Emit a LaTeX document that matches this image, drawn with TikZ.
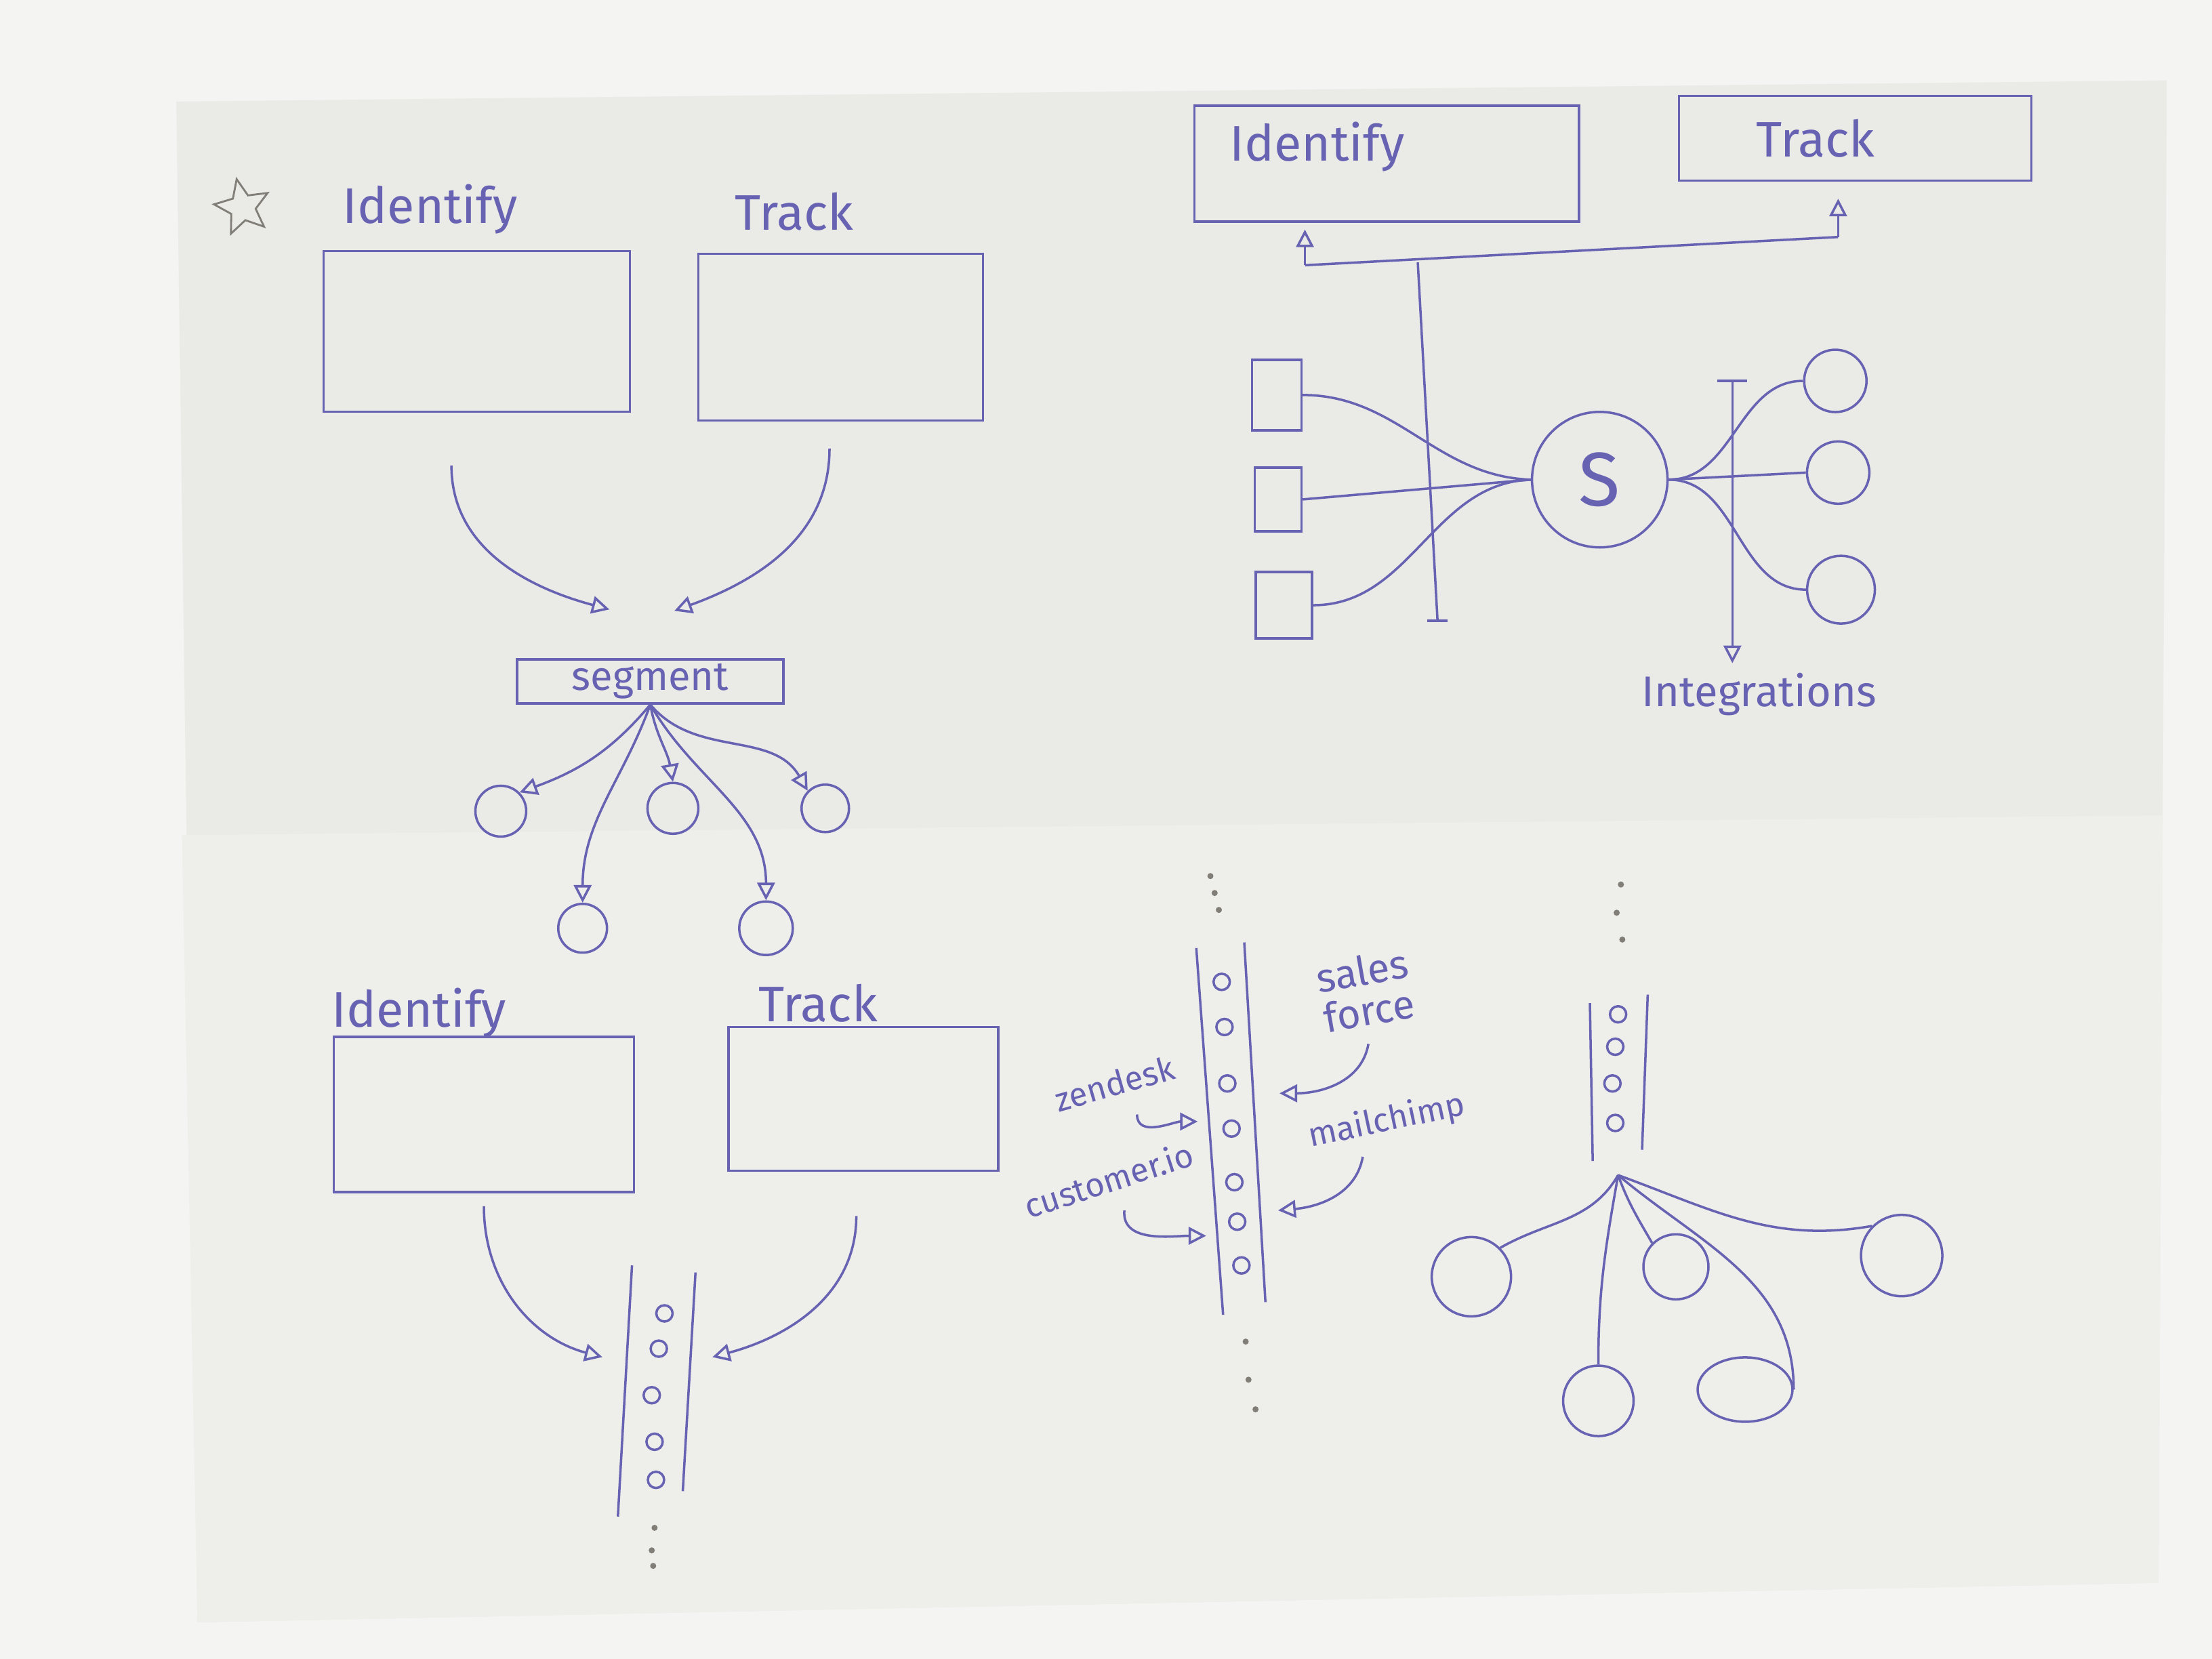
\documentclass[tikz,border=0pt]{standalone}
\usepackage{fontspec}
\setmainfont{Fira Sans}
\usetikzlibrary{arrows.meta}
\usetikzlibrary{shapes.geometric}
\usetikzlibrary{positioning}

\definecolor{ink}{RGB}{104,98,178}
\definecolor{pencil}{RGB}{128,126,118}
\definecolor{paper}{RGB}{234,234,231}
\definecolor{desk}{RGB}{244,244,242}

\tikzset{
  pen/.style={draw=ink, line width=1pt},
  box/.style={pen, rectangle, inner sep=0pt},
  blob/.style={pen, circle, inner sep=0pt},
  bead/.style={pen, circle, inner sep=0pt, minimum size=2.4mm},
  speck/.style={fill=pencil, circle, inner sep=0pt, minimum size=0.9mm},
  flow/.style={pen, -{Triangle[open, length=2.6mm, width=2.6mm]}},
  hand/.style={text=ink, font=\fontsize{21}{25}\selectfont, inner sep=1pt},
  handsm/.style={text=ink, font=\fontsize{14}{16}\selectfont, inner sep=1pt, align=center},
}

\begin{document}
\begin{tikzpicture}[x=0.2082mm, y=-0.2082mm]
      \fill[desk] (0,0) rectangle (1568,1176);
      \useasboundingbox (0,0) rectangle (1568,1176);
      \fill[paper] (125,72) -- (1536,57) -- (1530,1122) -- (140,1150) -- cycle;
      \fill[desk!40!paper] (129,592) -- (1533,578) -- (1530,1122) -- (140,1150) -- cycle;

      % top left: identify + track into segment
      \node[draw=pencil, star, star points=5, star point ratio=2.2, minimum size=8.5mm,
            inner sep=0pt, line width=0.8pt, rotate=12] (mark) at (172,147) {};
      \node[hand] (idAlbl) at (305,148) {Identify};
      \node[hand] (trAlbl) at (563,150) {Track};
      \node[box, minimum width=45.2mm, minimum height=23.7mm] (idA) at (338,235) {};
      \node[box, minimum width=42mm, minimum height=24.6mm] (trA) at (596,239) {};
      \node[box, hand, minimum width=39.3mm, minimum height=6.5mm,
            font=\fontsize{17}{20}\selectfont] (segA) at (461,483) {segment};

      \coordinate (idAout) at (320,330);
      \coordinate (trAout) at (588,318);
      \coordinate (segAinL) at (432,432);
      \coordinate (segAinR) at (478,433);
      \draw[flow] (idAout) to[out=-90, in=165] (segAinL);
      \draw[flow] (trAout) to[out=-90, in=20] (segAinR);

      \node[blob, minimum size=7.5mm] (evA1) at (355,575) {};
      \node[blob, minimum size=7.5mm] (evA2) at (477,573) {};
      \node[blob, minimum size=7mm] (evA3) at (585,573) {};
      \node[blob, minimum size=7.2mm] (evA4) at (413,658) {};
      \node[blob, minimum size=7.9mm] (evA5) at (543,658) {};
      \draw[flow] (segA.south) to[out=-130, in=20] (evA1.north east);
      \draw[flow] (segA.south) to[out=-80, in=100] (evA2.north);
      \draw[flow] (segA.south) to[out=-50, in=120] (evA3.north west);
      \draw[flow] (segA.south) to[out=-110, in=90] (evA4.north);
      \draw[flow] (segA.south) to[out=-60, in=90] (evA5.north);

      % top right: sources through S to integrations
      \node[box, minimum width=56.8mm, minimum height=17.1mm] (idB) at (983,116) {};
      \node[hand, anchor=west] (idBlbl) at ([xshift=5mm, yshift=2.5mm]idB.west) {Identify};
      \node[box, minimum width=52mm, minimum height=12.5mm] (trB) at (1315,98) {};
      \node[hand] (trBlbl) at (1287,98) {Track};

      \coordinate (busL) at (925,188);
      \coordinate (busR) at (1303,168);
      \draw[pen] (busL) -- (busR);
      \draw[flow, shorten >=1mm] (busL) -- (busL |- idB.south);
      \draw[flow, shorten >=2.5mm] (busR) -- (busR |- trB.south);

      \coordinate (trunkT) at (1005,186);
      \coordinate (trunkB) at (1019,440);
      \draw[pen] (trunkT) -- (trunkB);
      \draw[pen] ([xshift=-1.5mm]trunkB) -- ([xshift=1.5mm]trunkB);

      \node[box, minimum width=7.3mm, minimum height=10.4mm] (srcB1) at (905,280) {};
      \node[box, minimum width=6.9mm, minimum height=9.4mm] (srcB2) at (906,354) {};
      \node[box, minimum width=8.3mm, minimum height=9.8mm] (srcB3) at (910,429) {};
      \node[blob, hand, minimum size=20mm, font=\fontsize{32}{36}\selectfont] (hub) at (1134,340) {S};
      \draw[pen] (srcB1.east) to[out=0, in=178] (hub.west);
      \draw[pen] (srcB2.east) -- (hub.west);
      \draw[pen] (srcB3.east) to[out=0, in=182] (hub.west);

      \coordinate (tapT) at (1228,270);
      \node[hand, font=\fontsize{18}{21}\selectfont] (integ) at (1247,492) {Integrations};
      \draw[pen] ([xshift=-2.2mm]tapT) -- ([xshift=2.2mm]tapT);
      \draw[flow, shorten >=1mm] (tapT) -- (tapT |- integ.north);

      \node[blob, minimum size=9.2mm] (dstB1) at (1301,270) {};
      \node[blob, minimum size=9.2mm] (dstB2) at (1303,335) {};
      \node[blob, minimum size=10mm] (dstB3) at (1305,418) {};
      \draw[pen] (hub.east) to[out=0, in=180] (dstB1.west);
      \draw[pen] (hub.east) -- (dstB2.west);
      \draw[pen] (hub.east) to[out=0, in=180] (dstB3.west);

      % bottom left: identify + track into a stream
      \node[hand] (idClbl) at (297,718) {Identify};
      \node[hand] (trClbl) at (580,711) {Track};
      \node[box, minimum width=44.3mm, minimum height=22.9mm] (idC) at (343,790) {};
      \node[box, minimum width=39.8mm, minimum height=21.2mm] (trC) at (612,779) {};

      \coordinate (colCtl) at (448,897);
      \coordinate (colCbl) at (438,1075);
      \coordinate (colCtr) at (493,902);
      \coordinate (colCbr) at (484,1057);
      \draw[pen] (colCtl) -- (colCbl);
      \draw[pen] (colCtr) -- (colCbr);
      \foreach \x/\y in {471/931, 467/956, 462/989, 464/1022, 465/1049}
        \node[bead] at (\x,\y) {};
      \foreach \x/\y in {464/1083, 462/1099, 463/1110}
        \node[speck] at (\x,\y) {};

      \coordinate (idCout) at (343,855);
      \coordinate (trCout) at (607,862);
      \coordinate (colCinL) at (427,962);
      \coordinate (colCinR) at (505,962);
      \draw[flow] (idCout) to[out=-90, in=165] (colCinL);
      \draw[flow] (trCout) to[out=-90, in=15] (colCinR);

      % bottom middle: stream with tools feeding in
      \coordinate (colDtl) at (848,672);
      \coordinate (colDbl) at (867,932);
      \coordinate (colDtr) at (882,668);
      \coordinate (colDbr) at (897,923);
      \draw[pen] (colDtl) -- (colDbl);
      \draw[pen] (colDtr) -- (colDbr);
      \foreach \x/\y in {866/696, 868/728, 870/768, 873/800, 875/838, 877/866, 880/897}
        \node[bead] at (\x,\y) {};
      \foreach \x/\y in {858/621, 861/633, 864/645, 883/951, 885/978, 890/999}
        \node[speck] at (\x,\y) {};

      \node[handsm, rotate=16] (zend) at (790,768) {zendesk};
      \node[handsm, rotate=10, font=\fontsize{17}{17}\selectfont] (sales) at (968,702) {sales\\force};
      \node[handsm, rotate=12] (mail) at (983,795) {mailchimp};
      \node[handsm, rotate=18] (cust) at (786,836) {customer.io};

      \coordinate (zendOut) at (806,790);
      \coordinate (zendIn) at (849,795);
      \coordinate (salesOut) at (970,740);
      \coordinate (salesIn) at (907,775);
      \coordinate (mailOut) at (966,820);
      \coordinate (mailIn) at (906,858);
      \coordinate (custOut) at (797,858);
      \coordinate (custIn) at (855,876);
      \draw[flow] (zendOut) to[out=-90, in=180] (zendIn);
      \draw[flow] (salesOut) to[out=-100, in=0] (salesIn);
      \draw[flow] (mailOut) to[out=-100, in=5] (mailIn);
      \draw[flow] (custOut) to[out=-95, in=180] (custIn);

      % bottom right: stream fanning out
      \coordinate (colEtl) at (1127,711);
      \coordinate (colEbl) at (1129,823);
      \coordinate (colEtr) at (1168,705);
      \coordinate (colEbr) at (1164,815);
      \draw[pen] (colEtl) -- (colEbl);
      \draw[pen] (colEtr) -- (colEbr);
      \foreach \x/\y in {1147/719, 1145/742, 1143/768, 1145/796}
        \node[bead] at (\x,\y) {};
      \foreach \x/\y in {1149/627, 1146/647, 1150/666}
        \node[speck] at (\x,\y) {};

      \coordinate (fanE) at (1147,833);
      \node[blob, minimum size=11.7mm] (dstE1) at (1043,905) {};
      \node[blob, minimum size=9.6mm] (dstE2) at (1188,898) {};
      \node[blob, minimum size=12mm] (dstE3) at (1348,890) {};
      \node[blob, minimum size=10.4mm] (dstE4) at (1133,993) {};
      \node[pen, ellipse, inner sep=0pt, minimum width=14mm, minimum height=9.5mm] (dstE5) at (1237,985) {};
      \draw[pen] (fanE) to[out=-120, in=30] (dstE1.north east);
      \draw[pen] (fanE) to[out=-70, in=120] (dstE2.north west);
      \draw[pen] (fanE) to[out=-20, in=190] (dstE3.north west);
      \draw[pen] (fanE) to[out=-100, in=90] (dstE4.north);
      \draw[pen] (fanE) to[out=-40, in=90] (dstE5.east);

\end{tikzpicture}
\end{document}
